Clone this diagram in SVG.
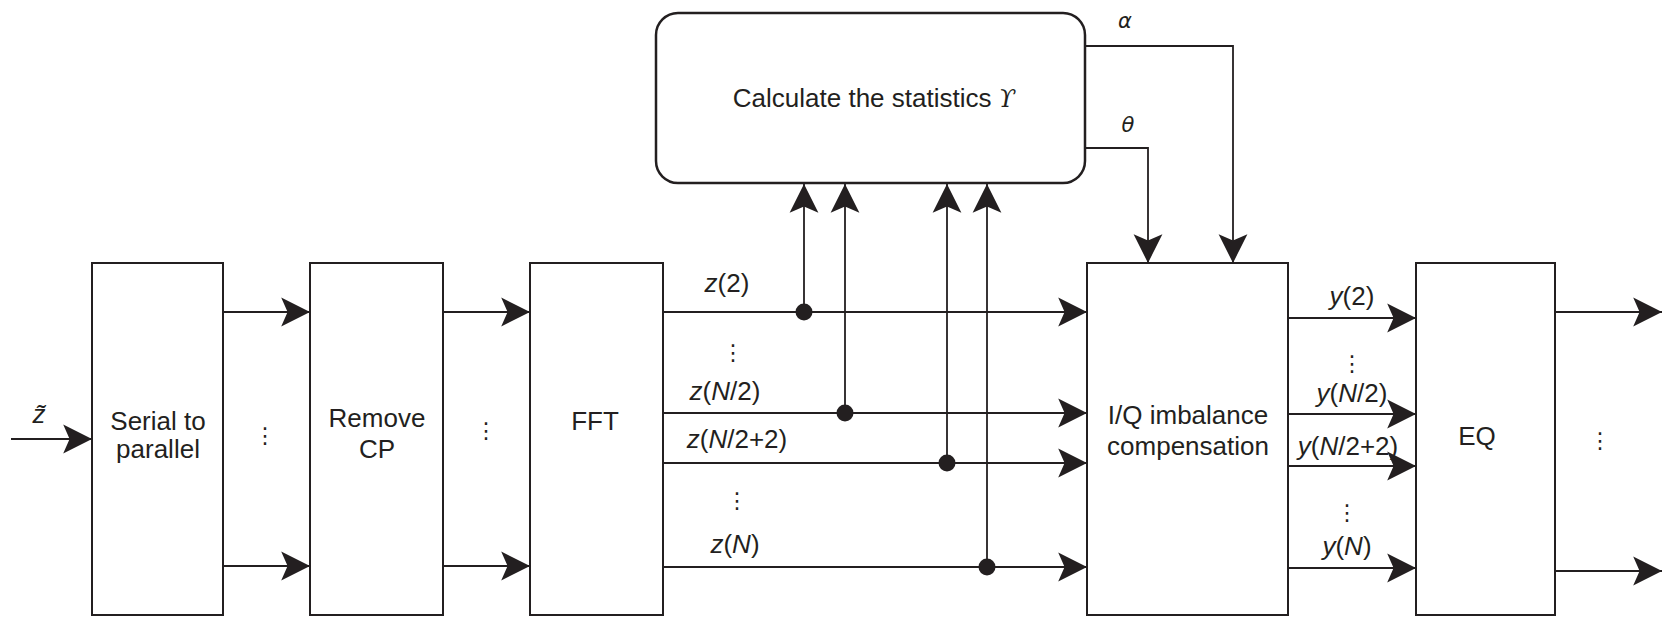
<svg xmlns="http://www.w3.org/2000/svg" width="1667" height="617" viewBox="0 0 1667 617">
<style>
.box{fill:#fff;stroke:#231f20;stroke-width:2}
.ln{fill:none;stroke:#231f20;stroke-width:1.8}
.bt{font-family:"Liberation Sans",Arial,sans-serif;font-size:26px;fill:#231f20;text-anchor:middle}
.lb{font-family:"Liberation Sans",Arial,sans-serif;font-size:26px;fill:#231f20;text-anchor:middle}
.it{font-style:italic}
.el{font-family:"DejaVu Sans",sans-serif;font-size:22px;fill:#231f20;text-anchor:middle}
.gk{font-family:"DejaVu Sans","Liberation Sans",sans-serif;font-style:italic;font-size:21px;fill:#231f20;text-anchor:middle}
</style>
<defs>
<marker id="ah" markerUnits="userSpaceOnUse" markerWidth="32" markerHeight="32" viewBox="-28 -15 30 30" refX="0" refY="0" orient="auto">
<path d="M0,0 L-27,-13.5 L-21,0 L-27,13.5 Z" fill="#231f20"/>
</marker>
</defs>
<rect width="1667" height="617" fill="#fff"/>

<g id="connectors">
<path class="ln" d="M11,439 H92" marker-end="url(#ah)"/>
<path class="ln" d="M223,312 H310" marker-end="url(#ah)"/>
<path class="ln" d="M223,566 H310" marker-end="url(#ah)"/>
<path class="ln" d="M443,312 H530" marker-end="url(#ah)"/>
<path class="ln" d="M443,566 H530" marker-end="url(#ah)"/>
<path class="ln" d="M663,312 H1087" marker-end="url(#ah)"/>
<path class="ln" d="M663,413 H1087" marker-end="url(#ah)"/>
<path class="ln" d="M663,463 H1087" marker-end="url(#ah)"/>
<path class="ln" d="M663,567 H1087" marker-end="url(#ah)"/>
<path class="ln" d="M804,312 V184" marker-end="url(#ah)"/>
<path class="ln" d="M845,413 V184" marker-end="url(#ah)"/>
<path class="ln" d="M947,463 V184" marker-end="url(#ah)"/>
<path class="ln" d="M987,567 V184" marker-end="url(#ah)"/>
<circle cx="804" cy="312" r="8.5" fill="#231f20"/>
<circle cx="845" cy="413" r="8.5" fill="#231f20"/>
<circle cx="947" cy="463" r="8.5" fill="#231f20"/>
<circle cx="987" cy="567" r="8.5" fill="#231f20"/>
<path class="ln" d="M1085,46 H1233 V263" marker-end="url(#ah)"/>
<path class="ln" d="M1085,148 H1148 V263" marker-end="url(#ah)"/>
<path class="ln" d="M1288,318 H1416" marker-end="url(#ah)"/>
<path class="ln" d="M1288,414 H1416" marker-end="url(#ah)"/>
<path class="ln" d="M1288,466 H1416" marker-end="url(#ah)"/>
<path class="ln" d="M1288,568 H1416" marker-end="url(#ah)"/>
<path class="ln" d="M1555,312 H1662" marker-end="url(#ah)"/>
<path class="ln" d="M1555,571 H1662" marker-end="url(#ah)"/>

<text class="lb it" x="39" y="423">z̃</text>
<text class="el" x="265" y="443">⋮</text>
<text class="el" x="486" y="438">⋮</text>
<text class="el" x="1600" y="448">⋮</text>

<text class="lb" x="727" y="292"><tspan class="it">z</tspan>(2)</text>
<text class="el" x="733" y="360">⋮</text>
<text class="lb" x="725" y="400"><tspan class="it">z</tspan>(<tspan class="it">N</tspan>/2)</text>
<text class="lb" x="737" y="448"><tspan class="it">z</tspan>(<tspan class="it">N</tspan>/2+2)</text>
<text class="el" x="737" y="508">⋮</text>
<text class="lb" x="735" y="553"><tspan class="it">z</tspan>(<tspan class="it">N</tspan>)</text>

<text class="lb" x="1352" y="305"><tspan class="it">y</tspan>(2)</text>
<text class="el" x="1352" y="371">⋮</text>
<text class="lb" x="1352" y="402"><tspan class="it">y</tspan>(<tspan class="it">N</tspan>/2)</text>
<text class="lb" x="1348" y="455"><tspan class="it">y</tspan>(<tspan class="it">N</tspan>/2+2)</text>
<text class="el" x="1347" y="520">⋮</text>
<text class="lb" x="1347" y="555"><tspan class="it">y</tspan>(<tspan class="it">N</tspan>)</text>

<text class="gk" x="1125" y="28">α</text>
<text class="gk" x="1128" y="132">θ</text>
</g>

<g id="serial-to-parallel">
<rect class="box" x="92" y="263" width="131" height="352"/>
<text class="bt" x="158" y="430">Serial to</text>
<text class="bt" x="158" y="458">parallel</text>
</g>
<g id="remove-cp">
<rect class="box" x="310" y="263" width="133" height="352"/>
<text class="bt" x="377" y="427">Remove</text>
<text class="bt" x="377" y="458">CP</text>
</g>
<g id="fft">
<rect class="box" x="530" y="263" width="133" height="352"/>
<text class="bt" x="595" y="430">FFT</text>
</g>
<g id="statistics">
<rect class="box" x="656" y="13" width="429" height="170" rx="22" ry="22" style="stroke-width:2.5"/>
<text class="bt" x="874" y="107">Calculate the statistics <tspan style="font-family:'DejaVu Serif',serif;font-style:italic;font-size:24px">ϒ</tspan></text>
</g>
<g id="iq-compensation">
<rect class="box" x="1087" y="263" width="201" height="352"/>
<text class="bt" x="1188" y="424">I/Q imbalance</text>
<text class="bt" x="1188" y="455">compensation</text>
</g>
<g id="eq">
<rect class="box" x="1416" y="263" width="139" height="352"/>
<text class="bt" x="1477" y="445">EQ</text>
</g>
</svg>
